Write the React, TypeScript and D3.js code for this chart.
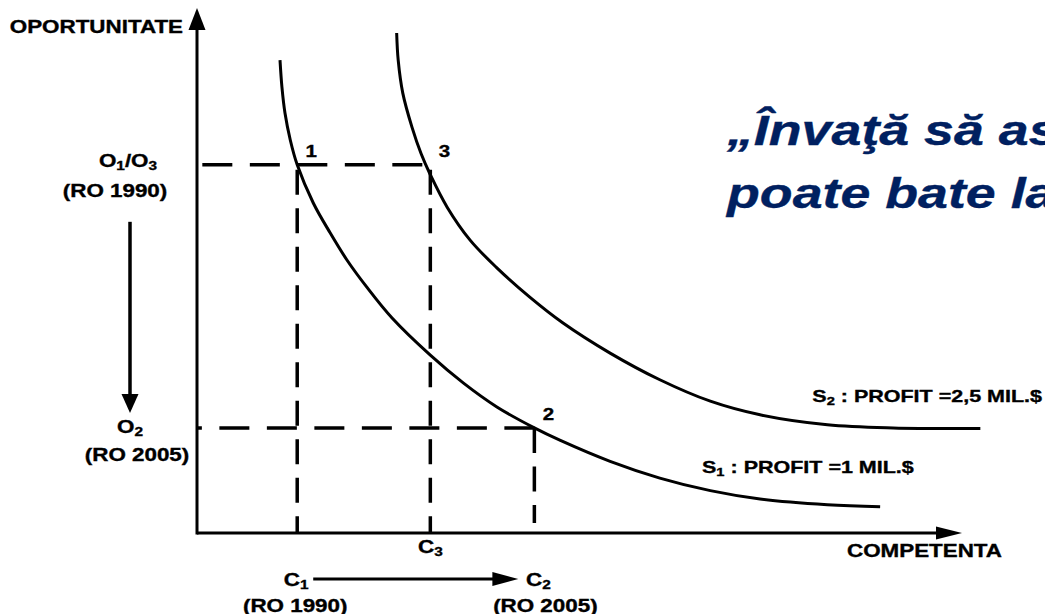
import React from 'react'
import * as d3 from 'd3'

const W = 1045
const H = 614
const SX = 1.28 // the slide was stretched sideways, text follows it

// S1 : profit 1 mil.$  (competence, opportunity)
const s1Comp = [10.85, 11.1, 11.5, 12.2, 13.1, 15.2, 17.4, 19.6, 22.2, 25.5, 30.5, 34.8, 39.2, 44.1, 47.5, 54.0, 60.5, 67.1, 73.6, 82.4, 89.3]
const s1Opp = [90.4, 85.3, 80.3, 75.1, 70.4, 63.1, 57.4, 52.2, 47.0, 41.1, 34.0, 28.7, 24.1, 20.1, 17.7, 13.7, 10.5, 8.1, 6.5, 5.4, 5.0]

// S2 : profit 2,5 mil.$
const s2Comp = [26.1, 26.3, 26.9, 28.1, 29.3, 30.5, 32.7, 35.7, 39.2, 43.5, 47.8, 54.0, 60.5, 67.1, 73.6, 82.4, 91.0, 102.4]
const s2Opp = [95.6, 90.4, 84.1, 77.6, 72.5, 68.5, 62.3, 56.0, 50.7, 45.1, 40.2, 34.4, 29.3, 25.2, 22.6, 20.7, 20.1, 20.0]

// reference levels
const C1 = 13.1
const C3 = 30.5
const C2 = 44.1
const O1 = 70.4
const O2 = 20.1

// numbered points: label, competence, opportunity
const pointNames = ['1', '3', '2']
const pointComp = [C1, C3, C2]
const pointOpp = [O1, O1, O2]

const titleLines = ['„Învaţă să asculţi. Oportunitatea', 'poate bate la uşă foarte încet.”']

const FONT = "'Liberation Sans', Arial, Helvetica, sans-serif"

const Txt = ({ x, y, anchor = 'middle', size = 17.5, fill = '#000', italic = false, children }: any) => (
  <text
    transform={`translate(${x},${y}) scale(${SX},1)`}
    textAnchor={anchor}
    fontSize={size}
    fontWeight="bold"
    fontStyle={italic ? 'italic' : 'normal'}
    fontFamily={FONT}
    fill={fill}
    stroke={fill}
    strokeWidth={0.35}
  >
    {children}
  </text>
)

export default function App() {
  const x = d3.scaleLinear().domain([0, 100]).range([197, 962])
  const y = d3.scaleLinear().domain([0, 100]).range([533, 10])

  const line = d3
    .line<[number, number]>()
    .x((d) => x(d[0]))
    .y((d) => y(d[1]))
    .curve(d3.curveCatmullRom.alpha(0.5))

  const s1 = line(s1Comp.map((c, i) => [c, s1Opp[i]]))
  const s2 = line(s2Comp.map((c, i) => [c, s2Opp[i]]))

  const x0 = x(0)
  const y0 = y(0)
  const xEnd = x(100)
  const yEnd = y(100)

  return (
    <svg width={W} height={H} style={{ position: 'absolute', left: 0, top: 0, background: '#fff' }}>
      {/* dashed guides, horizontals drawn right to left */}
      <g stroke="#000" strokeWidth={3.5} fill="none">
        <path d={`M${x(C3)},${y(O1)}H${x0}`} strokeDasharray="30 17.5" strokeDashoffset={39.5} />
        <path d={`M${x(C2)},${y(O2)}H${x0}`} strokeDasharray="30 17.5" />
        <path d={`M${x(C1)},${y(O1)}V${y0}`} strokeDasharray="25 13.5" strokeDashoffset={33.5} />
        <path d={`M${x(C3)},${y(O1)}V${y0}`} strokeDasharray="25 13.5" strokeDashoffset={33.5} />
        <path d={`M${x(C2)},${y(O2)}V${y0 - 10}`} strokeDasharray="25 13.5" />
      </g>

      {/* curves */}
      <path d={s1 ?? ''} fill="none" stroke="#000" strokeWidth={3} />
      <path d={s2 ?? ''} fill="none" stroke="#000" strokeWidth={3} />

      {/* axes */}
      <g stroke="#000" strokeWidth={3}>
        <line x1={x0} y1={y0} x2={xEnd - 24} y2={y0} />
        <line x1={x0} y1={y0 + 1.5} x2={x0} y2={yEnd + 18} />
      </g>
      <path d={`M${xEnd},${y0}L${xEnd - 26},${y0 - 6.5}L${xEnd - 26},${y0 + 6.5}Z`} fill="#000" />
      <path d={`M${x0},${yEnd - 2}L${x0 - 8.5},${yEnd + 20}L${x0 + 8.5},${yEnd + 20}Z`} fill="#000" />

      {/* change arrows */}
      <line x1={130} y1={y(O1) + 57} x2={130} y2={y(O2) - 32} stroke="#000" strokeWidth={3.5} />
      <path d={`M130,${y(O2) - 15}L${130 - 8.5},${y(O2) - 34}L${130 + 8.5},${y(O2) - 34}Z`} fill="#000" />
      <line x1={x(C1) + 16} y1={579} x2={x(C2) - 40} y2={579} stroke="#000" strokeWidth={3} />
      <path d={`M${x(C2) - 16},579L${x(C2) - 42},${579 - 7}L${x(C2) - 42},${579 + 7}Z`} fill="#000" />

      {/* axis titles */}
      <Txt x={183} y={33} anchor="end">OPORTUNITATE</Txt>
      <Txt x={1002} y={557} anchor="end">COMPETENTA</Txt>

      {/* opportunity levels */}
      <Txt x={128} y={y(O1) + 2}>
        <tspan>O</tspan>
        <tspan fontSize={12} dy={3}>1</tspan>
        <tspan dy={-3}>/O</tspan>
        <tspan fontSize={12} dy={3}>3</tspan>
      </Txt>
      <Txt x={115} y={197}>(RO 1990)</Txt>
      <Txt x={130} y={y(O2) + 5}>
        <tspan>O</tspan>
        <tspan fontSize={12} dy={3}>2</tspan>
      </Txt>
      <Txt x={137} y={y(O2) + 33}>(RO 2005)</Txt>

      {/* competence levels */}
      <Txt x={x(C3)} y={553}>
        <tspan>C</tspan>
        <tspan fontSize={12} dy={3}>3</tspan>
      </Txt>
      <Txt x={x(C1) - 1} y={586}>
        <tspan>C</tspan>
        <tspan fontSize={12} dy={3}>1</tspan>
      </Txt>
      <Txt x={x(C2) + 4} y={586}>
        <tspan>C</tspan>
        <tspan fontSize={12} dy={3}>2</tspan>
      </Txt>
      <Txt x={x(C1) - 2} y={612}>(RO 1990)</Txt>
      <Txt x={x(C2) + 11} y={612}>(RO 2005)</Txt>

      {/* numbered points */}
      {pointNames.map((n, i) => (
        <Txt key={n} x={x(pointComp[i]) + 14} y={y(pointOpp[i]) - 8} size={16}>
          {n}
        </Txt>
      ))}

      {/* curve labels */}
      <Txt x={1042} y={402} anchor="end" size={16.8}>
        <tspan>S</tspan>
        <tspan fontSize={11.5} dy={3}>2</tspan>
        <tspan dy={-3}> : PROFIT =2,5 MIL.$</tspan>
      </Txt>
      <Txt x={702} y={473} anchor="start" size={16.8}>
        <tspan>S</tspan>
        <tspan fontSize={11.5} dy={3}>1</tspan>
        <tspan dy={-3}> : PROFIT =1 MIL.$</tspan>
      </Txt>

      {/* slide quote, runs off the right edge as in the slide */}
      {titleLines.map((t, i) => (
        <Txt key={i} x={727} y={145 + i * 63} anchor="start" size={42} fill="#002060" italic>
          {t}
        </Txt>
      ))}
    </svg>
  )
}
